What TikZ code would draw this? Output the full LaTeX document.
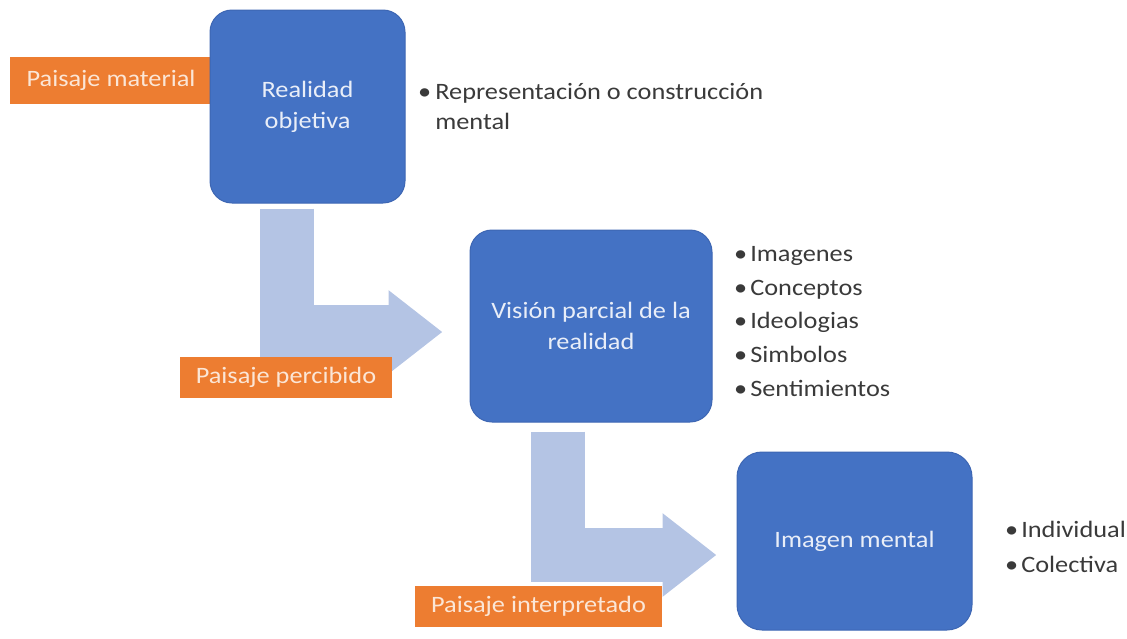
\documentclass[tikz,border=0pt]{standalone}
\usepackage{fontspec}
\setmainfont{Carlito}[FakeStretch=1.12]
\usetikzlibrary{arrows.meta}
\definecolor{boxblue}{HTML}{4472C4}
\definecolor{boxedge}{HTML}{3D66B3}
\definecolor{boxtext}{HTML}{E9EEF8}
\definecolor{tagorange}{HTML}{ED7D31}
\definecolor{tagtext}{HTML}{FBE6D6}
\definecolor{arrowblue}{HTML}{B4C4E4}
\definecolor{listgray}{HTML}{3A3A3A}
\begin{document}
\begin{tikzpicture}[x=1pt,y=-1pt,
        box/.style={rectangle, rounded corners=22pt, fill=boxblue, draw=boxedge, line width=1pt, text=boxtext, align=center, font=\fontsize{23.5}{31}\selectfont},
        tag/.style={rectangle, fill=tagorange, text=tagtext, inner sep=0pt, font=\fontsize{23.5}{26}\selectfont},
        list/.style={anchor=west, inner sep=0pt, text=listgray},
        bent/.style={line width=54pt, draw=arrowblue, line join=miter, -{Triangle[length=54pt,width=80pt]}}
    ]
        \useasboundingbox (0,0) rectangle (1127,638);
        \node[tag, minimum width=202pt, minimum height=47pt] (material) at (111,80.5) {Paisaje material};
        \node[box, minimum width=195pt, minimum height=193pt] (real) at (307.5,106.5) {Realidad\\objetiva};
        \node[box, minimum width=242pt, minimum height=192pt] (vision) at (591,326) {Visión parcial de la\\realidad};
        \node[box, minimum width=235pt, minimum height=178pt, rounded corners=25pt] (imagen) at (854.5,541) {Imagen mental};

        \node[list, font=\fontsize{23.5}{30}\selectfont] (repr) at (418,108) {\begin{tabular}{@{}l@{\hspace{4pt}}l@{}}• & Representación o construcción\\ & mental\end{tabular}};
        \node[list, font=\fontsize{23.5}{33.7}\selectfont] (rasgos) at (734,322) {\begin{tabular}{@{}l@{\hspace{3pt}}l@{}}• & Imagenes\\• & Conceptos\\• & Ideologias\\• & Simbolos\\• & Sentimientos\end{tabular}};
        \node[list, font=\fontsize{23.5}{35}\selectfont] (tipos) at (1005,547.5) {\begin{tabular}{@{}l@{\hspace{3pt}}l@{}}• & Individual\\• & Colectiva\end{tabular}};

        \draw[bent] ([xshift=-21pt,yshift=-5pt]real.south) |- ([xshift=-27pt,yshift=-6pt]vision.west);
        \draw[bent] ([xshift=-33.5pt,yshift=-9pt]vision.south) |- ([xshift=-20pt,yshift=-14pt]imagen.west);

        \node[tag, minimum width=212pt, minimum height=41pt] (percibido) at (286,377) {Paisaje percibido};
        \node[tag, minimum width=247pt, minimum height=41pt] (interpretado) at (538.5,606.5) {Paisaje interpretado};
    \end{tikzpicture}
\end{document}
